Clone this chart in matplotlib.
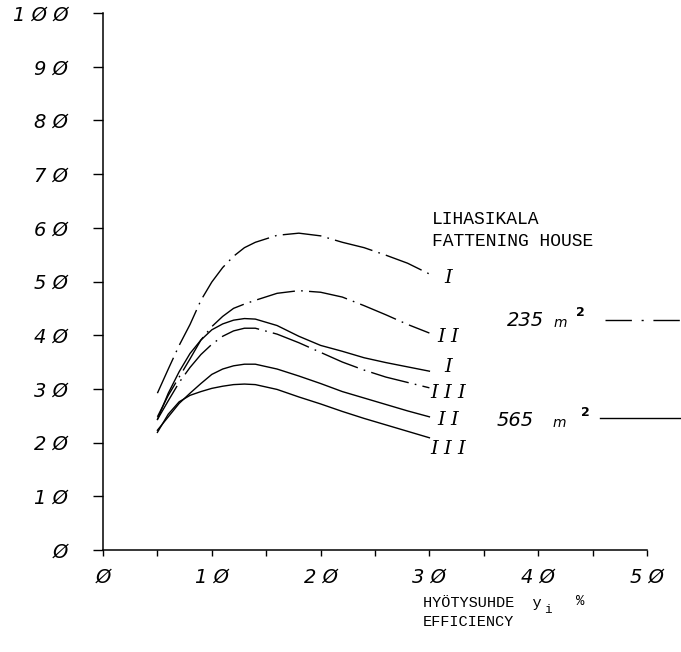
import matplotlib
matplotlib.use("Agg")
import matplotlib.pyplot as plt
from matplotlib.lines import Line2D

# ---- data ----
x = [5, 6, 7, 8, 9, 10, 11, 12, 13, 14, 16, 18, 20, 22, 24, 26, 28, 30]

h235_I = [29.2, 33.7, 38.1, 42.0, 46.5, 49.9, 52.6, 54.7, 56.3, 57.3, 58.6, 59.0,
          58.5, 57.3, 56.3, 54.9, 53.4, 51.4]
h235_II = [24.8, 28.8, 32.2, 35.6, 39.1, 41.6, 43.5, 45.0, 45.8, 46.5, 47.8, 48.3,
           48.0, 47.1, 45.5, 43.8, 42.0, 40.4]
h235_III = [24.3, 27.8, 31.2, 34.0, 36.4, 38.3, 39.8, 40.8, 41.3, 41.3, 40.2, 38.6,
            36.8, 35.0, 33.5, 32.2, 31.2, 30.2]
h565_I = [24.3, 29.2, 33.2, 36.6, 39.1, 41.0, 42.1, 42.8, 43.1, 43.0, 41.8, 39.8,
          38.1, 37.0, 35.8, 34.9, 34.1, 33.3]
h565_II = [22.3, 24.8, 27.3, 29.2, 31.0, 32.7, 33.7, 34.3, 34.6, 34.6, 33.7, 32.4,
           31.0, 29.5, 28.3, 27.1, 25.9, 24.8]
h565_III = [21.9, 25.3, 27.6, 28.8, 29.5, 30.1, 30.5, 30.8, 30.9, 30.8, 29.9, 28.5,
            27.2, 25.8, 24.5, 23.3, 22.1, 20.9]

curve_labels = ["I", "I I", "I", "I I I", "I I", "I I I"]
curve_label_y = [50.6, 39.6, 34.1, 29.3, 24.2, 18.9]

xticks = [0, 5, 10, 15, 20, 25, 30, 35, 40, 45, 50]
xticklabels = ["Ø", "", "1 Ø", "", "2 Ø", "", "3 Ø", "", "4 Ø", "", "5 Ø"]
yticks = [0, 10, 20, 30, 40, 50, 60, 70, 80, 90, 100]
yticklabels = ["Ø", "1 Ø", "2 Ø", "3 Ø", "4 Ø", "5 Ø", "6 Ø", "7 Ø", "8 Ø", "9 Ø", "1 Ø Ø"]

W, H = 681, 652
fig = plt.figure(figsize=(W / 100, H / 100), dpi=100)
ax = fig.add_axes([103 / W, 1 - 550 / H, 544 / W, 537 / H])

dashdot = (0, (28, 4.5, 1.2, 4.5))
lw = 1.0
ax.plot(x, h235_I, color="black", lw=lw, ls=dashdot)
ax.plot(x, h235_II, color="black", lw=lw, ls=dashdot)
ax.plot(x, h235_III, color="black", lw=lw, ls=dashdot)
ax.plot(x, h565_I, color="black", lw=lw)
ax.plot(x, h565_II, color="black", lw=lw)
ax.plot(x, h565_III, color="black", lw=lw)

for lab, yy in zip(curve_labels, curve_label_y):
    ax.text(31.7, yy, lab, ha="center", va="center", fontsize=14,
            family="DejaVu Serif", style="italic")

ax.set_xlim(0, 50)
ax.set_ylim(0, 100)
for s in ["top", "right"]:
    ax.spines[s].set_visible(False)
for s in ["left", "bottom"]:
    ax.spines[s].set_linewidth(1.1)

ax.set_xticks(xticks)
ax.set_xticklabels(xticklabels)
ax.set_yticks(yticks)
ax.set_yticklabels(yticklabels)
ax.tick_params(axis="x", length=4, width=1, pad=9, labelsize=14)
ax.tick_params(axis="y", length=7, width=1, pad=18, labelsize=14)
for t in ax.get_xticklabels() + ax.get_yticklabels():
    t.set_fontstyle("oblique")
    t.set_fontfamily("DejaVu Sans")

mono = "Liberation Mono"
# header text
ax.text(30.2, 61.5, "LIHASIKALA", ha="left", va="center", fontsize=13, family=mono)
ax.text(30.2, 57.4, "FATTENING HOUSE", ha="left", va="center", fontsize=13, family=mono)


def ftext(px, py, s, **kw):
    fig.text(px / W, 1 - py / H, s, **kw)


# legend-like labels
ftext(507, 320, "235", ha="left", va="center", fontsize=14, style="oblique")
ftext(554, 323, "m", ha="left", va="center", fontsize=10, style="oblique")
ftext(576, 312, "2", ha="left", va="center", fontsize=9, weight="bold")
ftext(497, 420, "565", ha="left", va="center", fontsize=14, style="oblique")
ftext(553, 423, "m", ha="left", va="center", fontsize=10, style="oblique")
ftext(581, 412, "2", ha="left", va="center", fontsize=9, weight="bold")

ax.add_line(Line2D([(605 - 103) / 544, (681 - 103) / 544], [(550 - 320) / 537] * 2,
                   transform=ax.transAxes, color="black", lw=1.0,
                   ls=(0, (19, 7, 1.5, 7)), clip_on=False))
ax.add_line(Line2D([(600 - 103) / 544, (681 - 103) / 544], [(550 - 418) / 537] * 2,
                   transform=ax.transAxes, color="black", lw=1.0, clip_on=False))

# x axis label
ftext(423, 603, "HYÖTYSUHDE  y", ha="left", va="center", fontsize=11, family=mono)
ftext(544, 610, "i", ha="left", va="center", fontsize=9, family=mono)
ftext(576, 601, "%", ha="left", va="center", fontsize=10, family=mono)
ftext(423, 622, "EFFICIENCY", ha="left", va="center", fontsize=11, family=mono)

fig.savefig("out.png", dpi=100)
